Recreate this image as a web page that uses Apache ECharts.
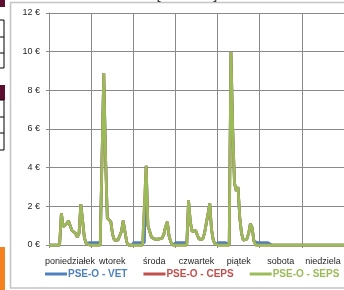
<!DOCTYPE html>
<html>
<head>
<meta charset="utf-8">
<script src="https://cdn.jsdelivr.net/npm/echarts@6/dist/echarts.min.js"></script>
<style>
  html, body { margin: 0; padding: 0; background: #fff; }
  #chart { width: 344px; height: 290px; }
</style>
</head>
<body>
<div id="chart"></div>
<script>
// dni tygodnia (etykiety osi X)
const days = ['poniedziałek', 'wtorek', 'środa', 'czwartek', 'piątek', 'sobota', 'niedziela'];
const yTicks = [0, 2, 4, 6, 8, 10, 12];
const seriesNames = ['PSE-O - VET', 'PSE-O - CEPS', 'PSE-O - SEPS'];

// ceny godzinowe [€], 24 wartości na dzień
const vet = [
  0, 0, 0, 0, 0, 0, 0, 1.65, 0.95, 0.85, 1.1, 1.25, 1.0, 0.75, 0.7, 0.6, 0.4, 0.6, 2.1, 1.3, 0.4, 0.08, 0, 0.12,
  0.12, 0.12, 0.12, 0.12, 0.12, 0.12, 0.12, 8.9, 4.6, 1.4, 1.35, 1.2, 0.55, 0.25, 0.25, 0.25, 0.3, 0.7, 1.25, 0.7, 0.15, 0, 0, 0,
  0.12, 0.12, 0.12, 0.12, 0.12, 0.12, 0.12, 4.1, 1.0, 0.7, 0.4, 0.3, 0.3, 0.25, 0.3, 0.3, 0.35, 0.55, 0.95, 1.2, 0.45, 0.15, 0, 0,
  0.12, 0.12, 0.12, 0.12, 0.12, 0.12, 0.12, 2.3, 1.2, 0.7, 0.8, 0.75, 0.5, 0.3, 0.2, 0.3, 0.6, 1.1, 1.6, 2.15, 0.8, 0.25, 0.05, 0.12,
  0.12, 0.12, 0.12, 0.12, 0.12, 0.12, 0, 10.0, 6.0, 3.2, 2.8, 3.0, 1.4, 0.6, 0.25, 0.18, 0.3, 0.6, 1.1, 0.9, 0.2, 0.12, 0.12, 0.12,
  0.12, 0.12, 0.12, 0.12, 0.12, 0.12, 0, 0, 0, 0, 0, 0, 0, 0, 0, 0, 0, 0, 0, 0, 0, 0, 0, 0,
  0, 0, 0, 0, 0, 0, 0, 0, 0, 0, 0, 0, 0, 0, 0, 0, 0, 0, 0, 0, 0, 0, 0, 0
];
const ceps = [
  0, 0, 0, 0, 0, 0, 0, 1.65, 0.95, 0.85, 1.1, 1.25, 1.0, 0.75, 0.7, 0.6, 0.4, 0.6, 2.1, 1.3, 0.4, 0.08, 0, 0,
  0, 0, 0, 0, 0, 0, 0, 8.9, 4.6, 1.4, 1.35, 1.2, 0.55, 0.25, 0.25, 0.25, 0.3, 0.7, 1.25, 0.7, 0.15, 0, 0, 0,
  0, 0, 0, 0, 0, 0, 0, 4.1, 1.0, 0.7, 0.4, 0.3, 0.3, 0.25, 0.3, 0.3, 0.35, 0.55, 0.95, 1.2, 0.45, 0.15, 0, 0,
  0, 0, 0, 0, 0, 0, 0, 2.3, 1.2, 0.7, 0.8, 0.75, 0.5, 0.3, 0.2, 0.3, 0.6, 1.1, 1.6, 2.15, 0.8, 0.25, 0.05, 0,
  0, 0, 0, 0, 0, 0, 0, 10.0, 6.0, 3.2, 2.8, 3.0, 1.4, 0.6, 0.25, 0.18, 0.3, 0.6, 1.1, 0.9, 0.2, 0, 0, 0,
  0, 0, 0, 0, 0, 0, 0, 0, 0, 0, 0, 0, 0, 0, 0, 0, 0, 0, 0, 0, 0, 0, 0, 0,
  0, 0, 0, 0, 0, 0, 0, 0, 0, 0, 0, 0, 0, 0, 0, 0, 0, 0, 0, 0, 0, 0, 0, 0
];
const seps = [
  0, 0, 0, 0, 0, 0, 0, 1.65, 0.95, 0.85, 1.1, 1.25, 1.0, 0.75, 0.7, 0.6, 0.4, 0.6, 2.1, 1.3, 0.4, 0.08, 0, 0,
  0, 0, 0, 0, 0, 0, 0, 8.9, 4.6, 1.4, 1.35, 1.2, 0.55, 0.25, 0.25, 0.25, 0.3, 0.7, 1.25, 0.7, 0.15, 0, 0, 0,
  0, 0, 0, 0, 0, 0, 0, 4.1, 1.0, 0.7, 0.4, 0.3, 0.3, 0.25, 0.3, 0.3, 0.35, 0.55, 0.95, 1.2, 0.45, 0.15, 0, 0,
  0, 0, 0, 0, 0, 0, 0, 2.3, 1.2, 0.7, 0.8, 0.75, 0.5, 0.3, 0.2, 0.3, 0.6, 1.1, 1.6, 2.15, 0.8, 0.25, 0.05, 0,
  0, 0, 0, 0, 0, 0, 0, 10.0, 6.0, 3.2, 2.8, 3.0, 1.4, 0.6, 0.25, 0.18, 0.3, 0.6, 1.1, 0.9, 0.2, 0, 0, 0,
  0, 0, 0, 0, 0, 0, 0, 0, 0, 0, 0, 0, 0, 0, 0, 0, 0, 0, 0, 0, 0, 0, 0, 0,
  0, 0, 0, 0, 0, 0, 0, 0, 0, 0, 0, 0, 0, 0, 0, 0, 0, 0, 0, 0, 0, 0, 0, 0
];

// kategorie godzinowe dla ukrytej osi
const hours = seps.map((_, i) => i);

const colors = ['#4f81bd', '#c0504d', '#9bbb59'];
const gridColor = '#8a8a8a';
const font = '"Liberation Sans", Arial, sans-serif';

const chart = echarts.init(document.getElementById('chart'));

const lineSeries = (name, data, color) => ({
  name: name,
  type: 'line',
  xAxisIndex: 1,
  data: data,
  showSymbol: false,
  clip: false,
  color: color,
  lineStyle: { width: 2.75, color: color },
  emphasis: { disabled: true }
});

chart.setOption({
  backgroundColor: '#ffffff',
  animation: false,
  textStyle: { fontFamily: font },
  grid: { left: 49, right: -10, top: 13, bottom: 45, containLabel: false },
  legend: {
    left: 45,
    top: 269,
    width: 320,
    padding: 0,
    itemWidth: 22,
    itemHeight: 3,
    itemGap: 16,
    icon: 'rect',
    data: seriesNames.map((n, i) => ({ name: n, textStyle: { color: colors[i] } })),
    textStyle: { fontSize: 10, fontWeight: 'bold', padding: [0, 0, 0, -4], fontFamily: font }
  },
  xAxis: [
    {
      type: 'category',
      data: days,
      boundaryGap: true,
      axisLine: { lineStyle: { color: gridColor, width: 1 } },
      axisTick: { show: true, length: 3, lineStyle: { color: gridColor } },
      splitLine: { show: true, lineStyle: { color: gridColor, width: 1 } },
      axisLabel: { fontSize: 9, color: '#262626', margin: 12, interval: 0, fontFamily: font }
    },
    {
      type: 'category',
      data: hours,
      boundaryGap: false,
      show: false
    }
  ],
  yAxis: {
    type: 'value',
    min: yTicks[0],
    max: yTicks[yTicks.length - 1],
    interval: 2,
    axisLine: { show: true, lineStyle: { color: gridColor, width: 1 } },
    axisTick: { show: true, length: 3, lineStyle: { color: gridColor } },
    splitLine: { show: true, lineStyle: { color: gridColor, width: 1 } },
    axisLabel: { fontSize: 9, color: '#262626', margin: 9, formatter: '{value} €', fontFamily: font }
  },
  series: [
    lineSeries(seriesNames[0], vet, colors[0]),
    lineSeries(seriesNames[1], ceps, colors[1]),
    lineSeries(seriesNames[2], seps, colors[2])
  ],
  graphic: [
    // ramka wykresu
    { type: 'rect', z: -1, shape: { x: 10.5, y: 2.5, width: 400, height: 285.5 },
      style: { fill: 'none', stroke: '#c4c4c4', lineWidth: 1.5 } },
    // resztka tytułu ucięta u góry
    { type: 'text', left: 157, top: -9,
      style: { text: '[EUR/MWh]', fill: '#404040', font: 'bold 11px ' + font } },
    // fragmenty tabel po lewej stronie
    { type: 'rect', shape: { x: 0, y: 0, width: 5, height: 7 }, style: { fill: '#5c0f30' } },
    { type: 'rect', shape: { x: 0, y: 85, width: 5, height: 15 }, style: { fill: '#5c0f30' } },
    { type: 'polyline', shape: { points: [[0, 20], [4, 20], [4, 68], [0, 68]] }, style: { stroke: '#000', lineWidth: 1, fill: 'none' } },
    { type: 'line', shape: { x1: 0, y1: 37, x2: 4, y2: 37 }, style: { stroke: '#000', lineWidth: 1 } },
    { type: 'line', shape: { x1: 0, y1: 53, x2: 4, y2: 53 }, style: { stroke: '#000', lineWidth: 1 } },
    { type: 'polyline', shape: { points: [[0, 100], [4, 100], [4, 150], [0, 150]] }, style: { stroke: '#000', lineWidth: 1, fill: 'none' } },
    { type: 'line', shape: { x1: 0, y1: 117, x2: 4, y2: 117 }, style: { stroke: '#000', lineWidth: 1 } },
    { type: 'line', shape: { x1: 0, y1: 133, x2: 4, y2: 133 }, style: { stroke: '#000', lineWidth: 1 } },
    { type: 'rect', shape: { x: 0, y: 247, width: 5, height: 43 }, style: { fill: '#f58220' } }
  ]
});
</script>
</body>
</html>
